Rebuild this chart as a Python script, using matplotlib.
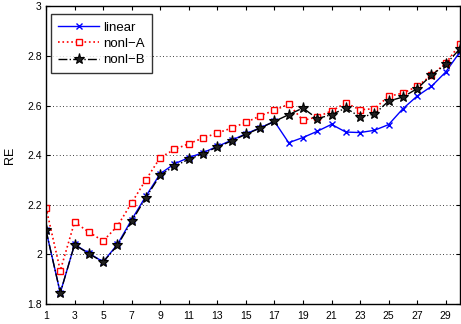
import matplotlib
matplotlib.use("Agg")
import matplotlib.pyplot as plt
import numpy as np

plt.rcParams['font.family'] = ['Liberation Sans', 'DejaVu Sans']

x = list(range(1, 31))
linear = [2.097, 1.845, 2.040, 2.005, 1.970, 2.040, 2.140, 2.235, 2.325, 2.365,
          2.390, 2.410, 2.435, 2.460, 2.486, 2.510, 2.536, 2.450, 2.471, 2.496,
          2.524, 2.493, 2.491, 2.500, 2.523, 2.587, 2.638, 2.677, 2.735, 2.816]
nonl_a = [2.188, 1.935, 2.130, 2.090, 2.054, 2.114, 2.208, 2.301, 2.390, 2.423,
          2.446, 2.469, 2.489, 2.509, 2.532, 2.558, 2.581, 2.605, 2.540, 2.554,
          2.578, 2.610, 2.583, 2.587, 2.637, 2.650, 2.677, 2.722, 2.770, 2.847]
nonl_b = [2.097, 1.845, 2.039, 2.003, 1.969, 2.036, 2.133, 2.229, 2.319, 2.356,
          2.383, 2.406, 2.433, 2.457, 2.484, 2.509, 2.536, 2.563, 2.590, 2.547,
          2.563, 2.590, 2.554, 2.565, 2.618, 2.634, 2.668, 2.722, 2.766, 2.829]
xticks = list(range(1, 30, 2))
yticks = [1.8, 2.0, 2.2, 2.4, 2.6, 2.8, 3.0]
ytick_labels = ['1.8', '2', '2.2', '2.4', '2.6', '2.8', '3']

fig = plt.figure(figsize=(4.61, 3.24), dpi=100)
ax = fig.add_axes([0.0998, 0.0617, 0.898, 0.919])

ax.plot(x, linear, color='blue', linestyle='-', linewidth=1.0, marker='x',
        markersize=5, markeredgewidth=1.0, label='linear')
ax.plot(x, nonl_a, color='red', linestyle=':', linewidth=1.2, marker='s',
        markersize=4.5, markerfacecolor='white', markeredgecolor='red',
        markeredgewidth=1.0, label='nonl\u2212A')
ax.plot(x, nonl_b, color='black', linestyle='-.', linewidth=1.0, marker='*',
        markersize=8, markerfacecolor='#202020', markeredgecolor='black',
        markeredgewidth=0.8, label='nonl\u2212B')

ax.set_xlim(1, 30)
ax.set_ylim(1.8, 3.0)
ax.set_xticks(xticks)
ax.set_yticks(yticks)
ax.set_yticklabels(ytick_labels)
ax.tick_params(direction='in', top=True, right=True, labelsize=7.5, length=3, pad=3)
ax.tick_params(axis='x', pad=5)
ax.yaxis.grid(True, linestyle=(0, (1, 3)), color='black', linewidth=0.6)
ax.set_ylabel('RE', fontsize=9, labelpad=8)
for s in ax.spines.values():
    s.set_linewidth(1.0)

leg = ax.legend(loc='upper left', fontsize=9.5, frameon=True, fancybox=False,
                edgecolor='black', handlelength=3.1, borderpad=0.55,
                labelspacing=0.3, handletextpad=0.3, borderaxespad=0.0,
                bbox_to_anchor=(0.012, 0.973))
leg.get_frame().set_linewidth(1.0)

fig.savefig('out.png', dpi=100)
